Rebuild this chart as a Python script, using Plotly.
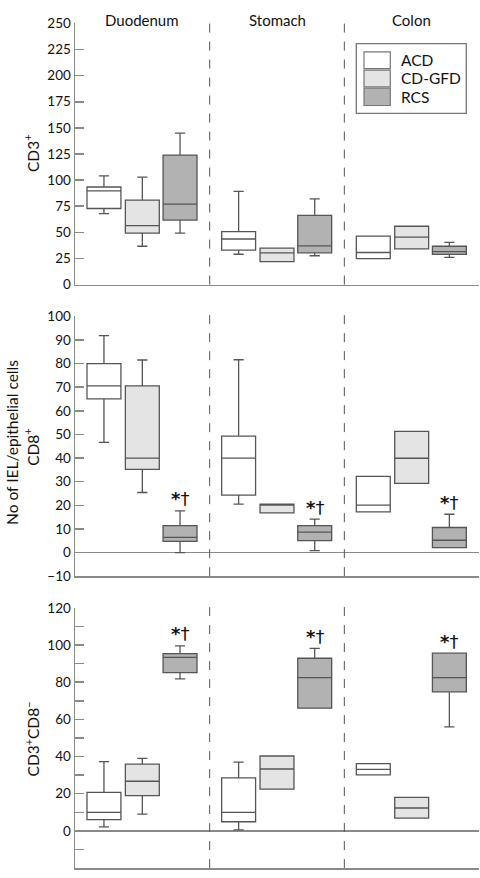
import plotly.graph_objects as go

# ---------------- data ----------------
sites = ["Duodenum", "Stomach", "Colon"]
groups = ["ACD", "CD-GFD", "RCS"]

# Panel 1: CD3+
cd3 = {
    "ACD":    dict(low=[68, 29, 24.8], q1=[72.8, 32.9, 24.8], med=[89.7, 43.6, 30.7], q3=[93.4, 50.7, 46.4], high=[104, 89.3, 46.4]),
    "CD-GFD": dict(low=[36.7, 22, 34.2], q1=[49.2, 22, 34.2], med=[56.4, 30.4, 45.5], q3=[80.9, 34.8, 55.8], high=[102.8, 34.8, 55.8]),
    "RCS":    dict(low=[49.2, 27.6, 26], q1=[61.7, 30.4, 28.9], med=[77, 37, 31.5], q3=[124, 66.2, 36.7], high=[145, 82.1, 40.4]),
}
# Panel 2: CD8+
cd8 = {
    "ACD":    dict(low=[46.6, 20.5, 17.2], q1=[65.0, 24.3, 17.2], med=[70.5, 40, 20.1], q3=[80.0, 49.3, 32.2], high=[91.8, 81.6, 32.2]),
    "CD-GFD": dict(low=[25.4, 16.8, 29.3], q1=[35.2, 16.8, 29.3], med=[40, 20.3, 39.9], q3=[70.5, 20.5, 51.3], high=[81.5, 20.5, 51.3]),
    "RCS":    dict(low=[0, 0.8, 2.1], q1=[4.7, 5, 2.1], med=[6.4, 8.6, 5.2], q3=[11.4, 11.4, 10.6], high=[17.6, 14.1, 16.2]),
}
# Panel 3: CD3+CD8-
cd3cd8 = {
    "ACD":    dict(low=[2.1, 0.5, 30.1], q1=[6.1, 4.9, 30.1], med=[10, 10, 33.1], q3=[20.7, 28.5, 36.2], high=[37.3, 37, 36.2]),
    "CD-GFD": dict(low=[9, 22.5, 6.9], q1=[19, 22.5, 6.9], med=[26.7, 33.3, 12.3], q3=[35.9, 40.3, 18], high=[39, 40.3, 18]),
    "RCS":    dict(low=[81.8, 66, 56], q1=[85.2, 66, 74.8], med=[93.4, 82.5, 82.5], q3=[95.4, 92.9, 95.6], high=[99.6, 98.2, 95.6]),
}
panels = [cd3, cd8, cd3cd8]
sig_rcs = [False, True, True]  # "*†" above RCS boxes

# y-axis ticks
yranges = [[0, 250], [-10, 100], [-20, 120]]
ytick_major = [list(range(0, 251, 25)), list(range(-10, 101, 10)), list(range(0, 121, 20))]
ytick_minor = [[], [], [-20, -10, 10, 30, 50, 70, 90, 110]]

fills = {"ACD": "#ffffff", "CD-GFD": "#e4e4e4", "RCS": "#b2b2b2"}
offsets = {"ACD": -0.285, "CD-GFD": 0.0, "RCS": 0.28}

FONT = "Lato, 'Open Sans', sans-serif"
AXC = "#8a8a8a"
LINEC = "#555555"
W, H = 480, 878
L = 75
PW = 404

def px2paper_x(px):
    return (px - L) / PW

def px2paper_y(py):
    return (H - py) / H

fig = go.Figure()

ynames = ["y", "y2", "y3"]
xnames = ["x", "x2", "x3"]
for p, panel in enumerate(panels):
    for g in groups:
        d = panel[g]
        xs = [i + 0.5 + offsets[g] for i in range(len(sites))]
        fig.add_trace(go.Box(
            x=xs, q1=d["q1"], median=d["med"], q3=d["q3"],
            lowerfence=d["low"], upperfence=d["high"],
            width=0.252, whiskerwidth=0.3,
            fillcolor=fills[g], line=dict(color=LINEC, width=1.3),
            boxpoints=False, showlegend=False, name=g, hoverinfo="skip",
            xaxis=xnames[p], yaxis=ynames[p],
        ))

doms = [
    (px2paper_y(281.7), px2paper_y(15.7)),
    (px2paper_y(578.7), px2paper_y(314)),
    (px2paper_y(876), px2paper_y(611)),
]

def fmt(v):
    return ("−" + str(-v)) if v < 0 else str(v)

layout = dict(
    width=W, height=H,
    margin=dict(l=L, r=W - L - PW, t=0, b=0),
    paper_bgcolor="white", plot_bgcolor="white",
    font=dict(family=FONT, size=13, color="#111"),
    showlegend=False,
)
for p in range(3):
    xk = "xaxis" if p == 0 else f"xaxis{p+1}"
    yk = "yaxis" if p == 0 else f"yaxis{p+1}"
    layout[xk] = dict(
        domain=[0, 1], range=[0, 3], anchor=ynames[p],
        showline=True, linecolor=AXC, linewidth=1.5,
        showgrid=False, zeroline=False,
        tickvals=[3], ticks="inside", ticklen=9,
        tickcolor=AXC, tickwidth=1.5, showticklabels=False, fixedrange=True,
    )
    ydict = dict(
        domain=list(doms[p]), range=yranges[p], anchor=xnames[p],
        showline=True, linecolor=AXC, linewidth=1.5,
        showgrid=False,
        zeroline=(p > 0), zerolinecolor=AXC, zerolinewidth=1.5,
        tickvals=ytick_major[p], ticktext=[fmt(v) for v in ytick_major[p]],
        ticks="inside", ticklen=9, tickcolor=AXC, tickwidth=1.5,
        tickfont=dict(size=13.5, family=FONT, color="#111"),
    )
    if ytick_minor[p]:
        ydict["minor"] = dict(tickvals=ytick_minor[p], ticks="inside", ticklen=9,
                              tickcolor=AXC, tickwidth=1.5, showgrid=False)
    layout[yk] = ydict
fig.update_layout(**layout)

shapes = []
for p in range(3):
    for xsep in [1, 2]:
        shapes.append(dict(
            type="line", xref=xnames[p], yref=f"{ynames[p]} domain",
            x0=xsep, x1=xsep, y0=0, y1=1.01,
            line=dict(color="#555", width=1, dash="dash"),
        ))

ann = []
for i, s in enumerate(sites):
    ann.append(dict(text=s, xref="x", yref="paper", x=i + 0.5, y=px2paper_y(12),
                    showarrow=False, font=dict(size=15, family=FONT, color="#111"),
                    xanchor="center", yanchor="middle"))

for p in range(3):
    if sig_rcs[p]:
        d = panels[p]["RCS"]
        for i in range(len(sites)):
            ann.append(dict(text="<b>*</b>†", xref=xnames[p], yref=ynames[p],
                            x=i + 0.5 + offsets["RCS"], y=d["high"][i],
                            yshift=12, showarrow=False, xanchor="center", yanchor="middle",
                            font=dict(size=18, family="DejaVu Sans", color="#111")))

ytitles = [
    ("CD3<sup>+</sup>", 32, 148.7),
    ("No of IEL/epithelial cells", 12, 443),
    ("CD8<sup>+</sup>", 32, 448),
    ("CD3<sup>+</sup>CD8<sup>−</sup>", 32, 745),
]
for t, xp, yp in ytitles:
    ann.append(dict(text=t, xref="paper", yref="paper", x=px2paper_x(xp), y=px2paper_y(yp),
                    textangle=-90, showarrow=False, xanchor="center", yanchor="middle",
                    font=dict(size=15.5, family=FONT, color="#111")))

shapes.append(dict(type="rect", xref="paper", yref="paper",
                   x0=px2paper_x(356.3), x1=px2paper_x(466.3),
                   y0=px2paper_y(107.3), y1=px2paper_y(36.3),
                   line=dict(color="#777", width=1.3), fillcolor="white", layer="above"))
leg_rows = [(44.7, 61.7), (63.3, 80.3), (81.7, 99.3)]
for g, (ya, yb) in zip(groups, leg_rows):
    shapes.append(dict(type="rect", xref="paper", yref="paper",
                       x0=px2paper_x(364), x1=px2paper_x(390.3),
                       y0=px2paper_y(yb), y1=px2paper_y(ya),
                       line=dict(color="#777", width=1.2), fillcolor=fills[g], layer="above"))
    ann.append(dict(text=g, xref="paper", yref="paper", x=px2paper_x(398.5), y=px2paper_y((ya + yb) / 2),
                    showarrow=False, xanchor="left", yanchor="middle",
                    font=dict(size=15.5, family=FONT, color="#111")))

fig.update_layout(shapes=shapes, annotations=ann)
fig.write_html("out.html",
               config={"displayModeBar": False, "staticPlot": True},
               post_script="document.body.style.margin='0';document.body.style.overflow='hidden';")
